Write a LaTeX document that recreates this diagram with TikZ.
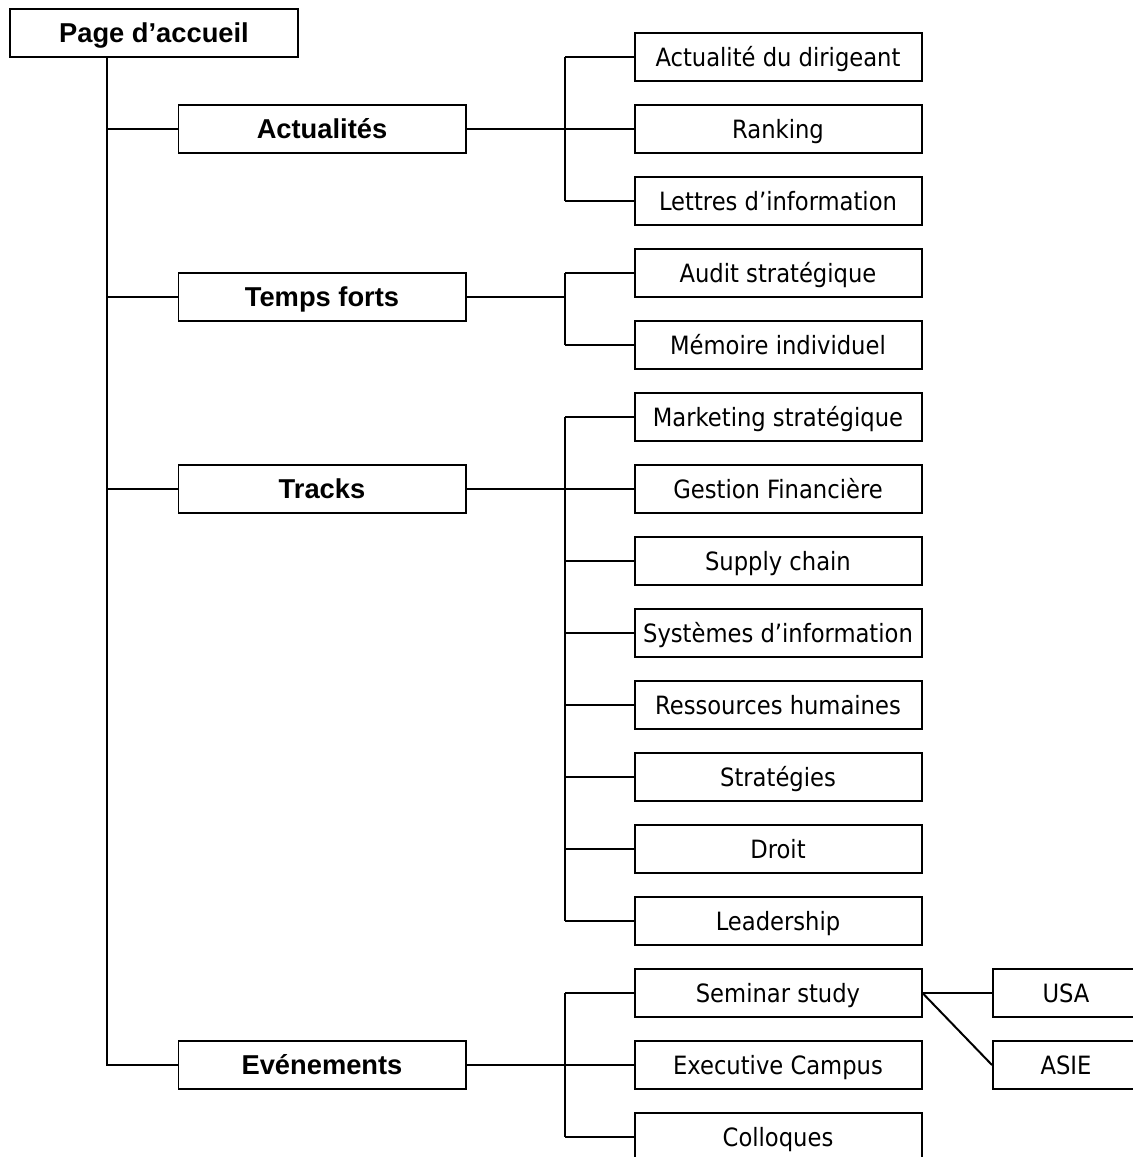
\documentclass[tikz,border=0pt]{standalone}
\usepackage{fontspec}
\setmainfont{DejaVu Sans Condensed}
\newfontfamily\arialfont{Liberation Sans}
\usetikzlibrary{positioning}
\tikzset{
	box/.style={draw,line width=1.7pt,minimum width=8.61cm,minimum height=1.44cm,inner sep=0pt},
	rubbox/.style={box,text height=16.8pt,text depth=0pt,font=\arialfont\bfseries\fontsize{23.3}{23.3}\selectfont},
	pagebox/.style={box,text height=15.7pt,text depth=0pt,font=\fontsize{21.5}{21.5}\selectfont},
	smallbox/.style={pagebox,minimum width=4.38cm},
	link/.style={line width=1.7pt}
}

\begin{document}
\begin{tikzpicture}[x=0.03cm,y=-0.03cm]
	\useasboundingbox (0,0) rectangle (1133,1157);

	% niveau 1
	\node [rubbox] (home) at (154,33) {Page d’accueil};
	\node [rubbox] (act) at (322,129) {Actualités};
	\node [rubbox] (temps) at (322,297) {Temps forts};
	\node [rubbox] (tracks) at (322,489) {Tracks};
	\node [rubbox] (evt) at (322,1065) {Evénements};

	% niveau 2
	\node [pagebox] (dir) at (778,57) {Actualité du dirigeant};
	\node [pagebox] (rank) at (778,129) {Ranking};
	\node [pagebox] (lettres) at (778,201) {Lettres d’information};
	\node [pagebox] (audit) at (778,273) {Audit stratégique};
	\node [pagebox] (memoire) at (778,345) {Mémoire individuel};
	\node [pagebox] (mkt) at (778,417) {Marketing stratégique};
	\node [pagebox] (fin) at (778,489) {Gestion Financière};
	\node [pagebox] (supply) at (778,561) {Supply chain};
	\node [pagebox] (si) at (778,633) {Systèmes d’information};
	\node [pagebox] (rh) at (778,705) {Ressources humaines};
	\node [pagebox] (strat) at (778,777) {Stratégies};
	\node [pagebox] (droit) at (778,849) {Droit};
	\node [pagebox] (lead) at (778,921) {Leadership};
	\node [pagebox] (sem) at (778,993) {Seminar study};
	\node [pagebox] (exec) at (778,1065) {Executive Campus};
	\node [pagebox] (coll) at (778,1137) {Colloques};

	% niveau 3
	\node [smallbox] (usa) at (1066,993) {USA};
	\node [smallbox] (asie) at (1066,1065) {ASIE};

	\coordinate (trunk) at (107,0);
	\coordinate (fork) at (565,0);

	% tronc principal
	\draw [link] (trunk |- home.south) -- (trunk |- evt.west) -- (evt.west);
	\foreach \n in {act,temps,tracks}
		\draw [link] (trunk |- \n.west) -- (\n.west);

	% branches
	\draw [link] (act.east) -- (rank.west);
	\draw [link] (fork |- dir.west) -- (fork |- lettres.west);
	\foreach \n in {dir,lettres}
		\draw [link] (fork |- \n.west) -- (\n.west);

	\draw [link] (temps.east) -- (fork |- temps.east);
	\draw [link] (fork |- audit.west) -- (fork |- memoire.west);
	\foreach \n in {audit,memoire}
		\draw [link] (fork |- \n.west) -- (\n.west);

	\draw [link] (tracks.east) -- (fin.west);
	\draw [link] (fork |- mkt.west) -- (fork |- lead.west);
	\foreach \n in {mkt,supply,si,rh,strat,droit,lead}
		\draw [link] (fork |- \n.west) -- (\n.west);

	\draw [link] (evt.east) -- (exec.west);
	\draw [link] (fork |- sem.west) -- (fork |- coll.west);
	\foreach \n in {sem,coll}
		\draw [link] (fork |- \n.west) -- (\n.west);

	\draw [link] (sem.east) -- (usa.west);
	\draw [link] (sem.east) -- (asie.west);
\end{tikzpicture}
\end{document}
